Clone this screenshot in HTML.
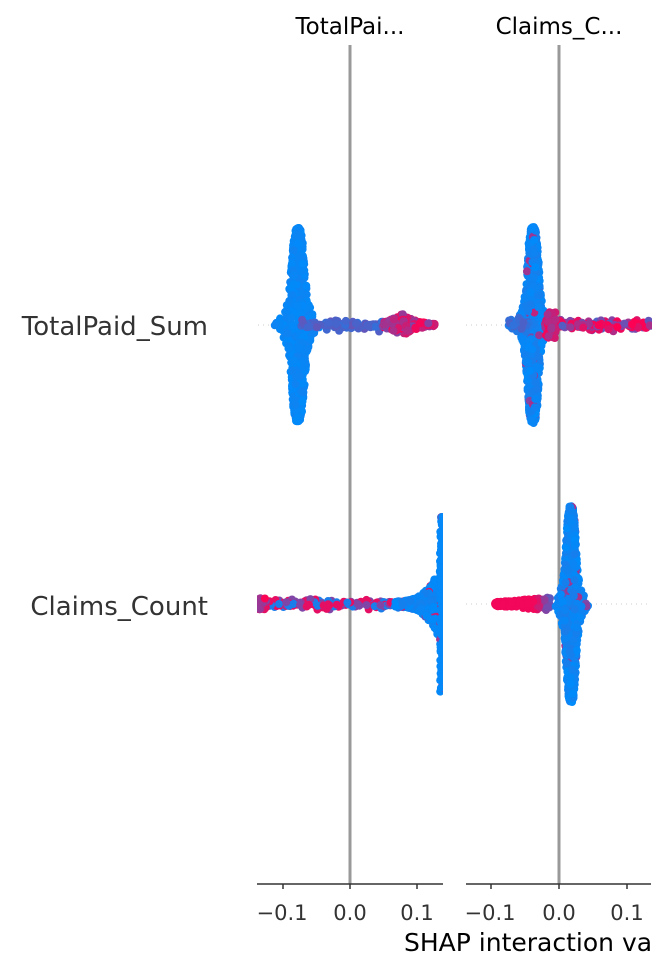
<!DOCTYPE html>
<html><head><meta charset="utf-8"><style>
html,body{margin:0;padding:0;background:#fff;}
svg{display:block;font-family:"DejaVu Sans","Liberation Sans",sans-serif;}
</style></head><body>
<svg id="s" width="666" height="972" viewBox="0 0 666 972" xmlns="http://www.w3.org/2000/svg">
<defs>
<clipPath id="c1"><rect x="257" y="0" width="186" height="972"/></clipPath>
<clipPath id="c2"><rect x="466" y="0" width="186" height="972"/></clipPath>
</defs>
<g stroke="#ccc" stroke-width="1" stroke-dasharray="1,4">
<line x1="258" y1="325" x2="443" y2="325"/><line x1="466" y1="325" x2="651" y2="325"/>
<line x1="258" y1="604" x2="443" y2="604"/><line x1="466" y1="604" x2="651" y2="604"/>
</g>
<line x1="350" y1="45" x2="350" y2="884" stroke="#999" stroke-width="3"/>
<line x1="559" y1="45" x2="559" y2="884" stroke="#999" stroke-width="3"/>
<g id="d1" clip-path="url(#c1)"></g>
<g id="d2" clip-path="url(#c2)"></g>
<text x="350" y="34" font-size="23" text-anchor="middle" fill="#000">TotalPai...</text>
<text x="559" y="34" font-size="23" text-anchor="middle" fill="#000">Claims_C...</text>
<text x="208" y="335" font-size="26" text-anchor="end" fill="#333">TotalPaid_Sum</text>
<text x="208" y="615" font-size="26" text-anchor="end" fill="#333">Claims_Count</text>
<g stroke="#333" stroke-width="1.5">
<line x1="257" y1="884" x2="443" y2="884"/><line x1="466" y1="884" x2="651" y2="884"/>
<line x1="283" y1="884" x2="283" y2="889"/><line x1="350" y1="884" x2="350" y2="889"/><line x1="417" y1="884" x2="417" y2="889"/>
<line x1="491" y1="884" x2="491" y2="889"/><line x1="559" y1="884" x2="559" y2="889"/><line x1="627" y1="884" x2="627" y2="889"/>
</g>
<g font-size="21" fill="#333" text-anchor="middle">
<text x="282" y="920">−0.1</text><text x="350" y="920">0.0</text><text x="417" y="920">0.1</text>
<text x="490" y="920">−0.1</text><text x="559" y="920">0.0</text><text x="627" y="920">0.1</text>
</g>
<text x="404" y="951" font-size="25" fill="#000">SHAP interaction va</text>
</svg>
<script>
var seed=7;function rnd(){seed=(seed*16807)%2147483647;return seed/2147483647;}
function g(){var u=rnd()||1e-9,v=rnd();return Math.sqrt(-2*Math.log(u))*Math.cos(6.2832*v);}
function col(t){t=Math.max(0,Math.min(1,t));var r=Math.round(255*t),gg=Math.round(139*(1-t)),b=Math.round(251*(1-t)+82*t);return "rgb("+r+","+gg+","+b+")";}
var out={d1:"",d2:""};
function dot(id,x,y,t){out[id]+='<circle cx="'+x.toFixed(1)+'" cy="'+y.toFixed(1)+'" r="4" fill="'+col(t)+'"/>';}
function spine(id,cx,cy,h,wc,wt,n,tf){for(var i=0;i<n;i++){var f=rnd()*2-1;var dy=f*h;var w=wc*Math.exp(-Math.abs(dy)/14)+wt*Math.sqrt(Math.max(0,1-f*f))+1;var x=cx+(rnd()*2-1)*w;dot(id,x,cy+dy,tf());}}
function tail(id,x0,x1,cy,sp,n,tf){for(var i=0;i<n;i++){var x=x0+rnd()*(x1-x0);dot(id,x,cy+g()*sp,tf(x));}}
spine("d1",298,325,97,16,7,800,function(){return rnd()*0.06;});
tail("d1",300,385,325,2,90,function(x){return 0.2+rnd()*0.2;});
for(var i=0;i<200;i++){var x=383+rnd()*52;var sp=12*Math.exp(-Math.abs(x-402)/14);dot("d1",x,325+(rnd()*2-1)*sp,0.5+rnd()*0.5);}
spine("d2",533,325,98,14,6,800,function(){return rnd()<0.93?rnd()*0.1:0.4+rnd()*0.4;});
tail("d2",508,530,325,3,40,function(){return 0.1+rnd()*0.2;});
tail("d2",545,651,325,2.2,170,function(){return rnd()<0.55?0.85+rnd()*0.15:0.3+rnd()*0.4;});
for(var i=0;i<40;i++){dot("d2",546+rnd()*10,312+rnd()*26,0.6+rnd()*0.4);}
tail("d1",258,400,604,2,200,function(x){var r=rnd();return r<0.35?0.9:(r<0.65?0.1:0.5);});
for(var i=0;i<40;i++){dot("d1",258+rnd()*8,604+(rnd()*2-1)*6,0.5+rnd()*0.5);}
for(var i=0;i<400;i++){var x=395+rnd()*50;var sp=3+Math.pow((x-395)/48,3)*40;dot("d1",x,604+(rnd()*2-1)*sp,rnd()<0.88?rnd()*0.08:0.5+rnd()*0.5);}
for(var i=0;i<250;i++){var f=rnd()*2-1;dot("d1",440+rnd()*5,604+f*88,rnd()<0.92?0.02:0.6);}
for(var i=0;i<220;i++){var x=495+rnd()*55;var t=x<535?0.95:0.95-(x-535)/25;dot("d2",x,604+(rnd()*2-1)*(2+(x-495)/12),t);}
spine("d2",571,604,98,13,5,800,function(){return rnd()<0.94?rnd()*0.1:0.4+rnd()*0.3;});
document.getElementById("d1").innerHTML=out.d1;
document.getElementById("d2").innerHTML=out.d2;
</script>
</body></html>
